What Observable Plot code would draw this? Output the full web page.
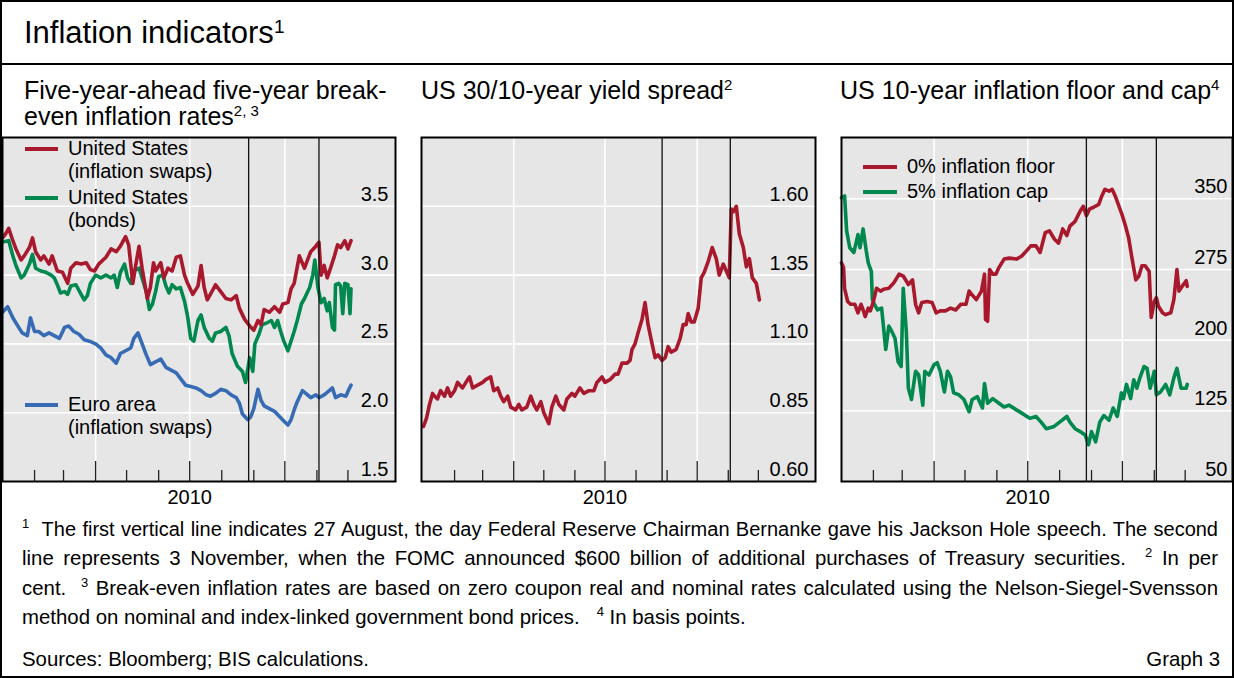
<!DOCTYPE html>
<html>
<head>
<meta charset="utf-8">
<script src="https://cdn.jsdelivr.net/npm/d3@7"></script>
<script src="https://cdn.jsdelivr.net/npm/@observablehq/plot@0.6"></script>
<style>
  body { margin: 0; background: #fff; }
  #root { position: relative; width: 1234px; height: 678px; font-family: "Liberation Sans", Arial, Helvetica, sans-serif; color: #000; overflow: hidden; }
  .abs { position: absolute; }
  .fn { height: 29.4px; line-height: 29.4px; font-size: 20.4px; white-space: nowrap; }
  .just { text-align: justify; text-align-last: justify; white-space: normal; }
  .fn sup { font-size: 13px; vertical-align: 8px; line-height: 0; }
  .leg { position: absolute; font-size: 20px; line-height: 23.5px; white-space: nowrap; }
  .sw { position: absolute; height: 4px; }
</style>
</head>
<body>
<div id="root"></div>
<script>
// ---------------- DATA ----------------
const eventDates = ["2010-08-27", "2010-11-03"];
const p1Ticks = [1.5, 2.0, 2.5, 3.0, 3.5];
const p2Ticks = [0.60, 0.85, 1.10, 1.35, 1.60];
const p3Ticks = [50, 125, 200, 275, 350];
const yearLabel = ["2010"];

const usSwaps = [["2010-01-01",3.27],["2010-01-04",3.30],["2010-01-07",3.34],["2010-01-11",3.25],["2010-01-14",3.19],["2010-01-19",3.11],["2010-01-22",3.14],["2010-01-27",3.20],["2010-01-30",3.27],["2010-02-02",3.17],["2010-02-07",3.11],["2010-02-10",3.14],["2010-02-15",3.08],["2010-02-18",3.14],["2010-02-23",3.03],["2010-02-28",3.02],["2010-03-05",2.94],["2010-03-08",3.05],["2010-03-13",3.09],["2010-03-18",3.08],["2010-03-23",3.09],["2010-03-27",3.04],["2010-03-31",3.03],["2010-04-04",3.08],["2010-04-11",3.13],["2010-04-16",3.19],["2010-04-21",3.17],["2010-04-25",3.21],["2010-04-30",3.28],["2010-05-03",3.22],["2010-05-07",2.94],["2010-05-10",3.08],["2010-05-13",3.21],["2010-05-16",3.05],["2010-05-21",2.83],["2010-05-24",2.91],["2010-05-27",3.09],["2010-05-29",3.03],["2010-06-03",3.09],["2010-06-06",2.98],["2010-06-10",3.05],["2010-06-14",3.03],["2010-06-18",3.13],["2010-06-22",3.14],["2010-06-26",3.00],["2010-06-29",2.94],["2010-07-04",2.86],["2010-07-09",2.92],["2010-07-12",3.07],["2010-07-15",2.91],["2010-07-18",2.82],["2010-07-21",2.86],["2010-07-26",2.93],["2010-07-31",2.88],["2010-08-05",2.83],["2010-08-10",2.82],["2010-08-15",2.85],["2010-08-18",2.76],["2010-08-23",2.68],["2010-08-28",2.63],["2010-09-01",2.60],["2010-09-05",2.67],["2010-09-08",2.64],["2010-09-11",2.75],["2010-09-16",2.73],["2010-09-21",2.77],["2010-09-26",2.73],["2010-09-29",2.79],["2010-10-04",2.80],["2010-10-07",2.90],["2010-10-10",2.94],["2010-10-15",3.14],["2010-10-20",3.05],["2010-10-23",3.11],["2010-10-26",3.17],["2010-10-31",3.21],["2010-11-03",3.24],["2010-11-05",3.00],["2010-11-08",3.07],["2010-11-11",2.98],["2010-11-15",3.07],["2010-11-18",3.14],["2010-11-21",3.22],["2010-11-24",3.20],["2010-11-28",3.25],["2010-12-01",3.19],["2010-12-04",3.25]];

const usBonds = [["2010-01-01",3.24],["2010-01-07",3.25],["2010-01-11",3.14],["2010-01-14",3.07],["2010-01-19",2.98],["2010-01-22",3.00],["2010-01-27",3.08],["2010-01-30",3.15],["2010-02-02",3.05],["2010-02-07",3.03],["2010-02-12",3.02],["2010-02-17",3.00],["2010-02-20",2.98],["2010-02-23",2.93],["2010-02-26",2.87],["2010-03-02",2.88],["2010-03-05",2.86],["2010-03-08",2.92],["2010-03-13",2.93],["2010-03-18",2.86],["2010-03-21",2.82],["2010-03-24",2.85],["2010-03-27",2.94],["2010-04-01",3.00],["2010-04-06",2.98],["2010-04-11",3.00],["2010-04-16",2.98],["2010-04-19",3.00],["2010-04-22",2.91],["2010-04-25",3.02],["2010-04-29",3.08],["2010-05-02",2.98],["2010-05-05",2.94],["2010-05-08",3.03],["2010-05-13",3.05],["2010-05-16",2.98],["2010-05-20",2.88],["2010-05-23",2.75],["2010-05-26",2.79],["2010-05-29",2.88],["2010-06-01",2.99],["2010-06-05",3.00],["2010-06-08",2.92],["2010-06-11",2.87],["2010-06-14",2.93],["2010-06-18",2.90],["2010-06-22",2.91],["2010-06-26",2.81],["2010-06-29",2.70],["2010-07-02",2.54],["2010-07-05",2.52],["2010-07-09",2.67],["2010-07-12",2.71],["2010-07-15",2.62],["2010-07-20",2.54],["2010-07-23",2.52],["2010-07-26",2.58],["2010-07-31",2.59],["2010-08-05",2.62],["2010-08-08",2.56],["2010-08-11",2.43],["2010-08-16",2.34],["2010-08-21",2.30],["2010-08-24",2.22],["2010-08-28",2.40],["2010-08-31",2.30],["2010-09-02",2.50],["2010-09-06",2.57],["2010-09-09",2.64],["2010-09-13",2.65],["2010-09-18",2.67],["2010-09-21",2.62],["2010-09-24",2.67],["2010-09-27",2.59],["2010-09-30",2.52],["2010-10-04",2.45],["2010-10-07",2.52],["2010-10-10",2.59],["2010-10-13",2.67],["2010-10-17",2.79],["2010-10-20",2.83],["2010-10-25",2.91],["2010-10-28",3.00],["2010-10-30",3.11],["2010-11-02",2.91],["2010-11-05",2.80],["2010-11-08",2.83],["2010-11-11",2.74],["2010-11-13",2.80],["2010-11-16",2.62],["2010-11-18",2.60],["2010-11-19",2.93],["2010-11-22",2.94],["2010-11-24",2.92],["2010-11-26",2.72],["2010-11-28",2.94],["2010-12-01",2.93],["2010-12-03",2.72],["2010-12-04",2.90]];

const euroSwaps = [["2010-01-01",2.73],["2010-01-06",2.77],["2010-01-11",2.69],["2010-01-15",2.64],["2010-01-20",2.58],["2010-01-25",2.56],["2010-01-28",2.69],["2010-02-01",2.59],["2010-02-05",2.59],["2010-02-10",2.56],["2010-02-15",2.58],["2010-02-20",2.56],["2010-02-25",2.54],["2010-03-02",2.62],["2010-03-06",2.63],["2010-03-11",2.59],["2010-03-16",2.57],["2010-03-21",2.53],["2010-03-26",2.52],["2010-04-01",2.50],["2010-04-06",2.47],["2010-04-11",2.42],["2010-04-16",2.40],["2010-04-21",2.36],["2010-04-25",2.43],["2010-04-30",2.45],["2010-05-05",2.47],["2010-05-08",2.54],["2010-05-12",2.58],["2010-05-15",2.52],["2010-05-20",2.42],["2010-05-24",2.35],["2010-05-29",2.37],["2010-06-03",2.39],["2010-06-08",2.33],["2010-06-13",2.31],["2010-06-18",2.29],["2010-06-22",2.25],["2010-06-27",2.20],["2010-07-02",2.19],["2010-07-07",2.18],["2010-07-12",2.16],["2010-07-17",2.13],["2010-07-21",2.12],["2010-07-26",2.14],["2010-07-31",2.17],["2010-08-05",2.16],["2010-08-10",2.13],["2010-08-15",2.11],["2010-08-18",2.07],["2010-08-21",1.99],["2010-08-26",1.95],["2010-08-29",1.97],["2010-09-01",2.03],["2010-09-05",2.17],["2010-09-08",2.09],["2010-09-11",2.05],["2010-09-16",2.03],["2010-09-21",2.01],["2010-09-26",1.97],["2010-09-30",1.94],["2010-10-04",1.91],["2010-10-07",1.95],["2010-10-10",2.02],["2010-10-13",2.08],["2010-10-18",2.16],["2010-10-23",2.13],["2010-10-26",2.11],["2010-10-31",2.13],["2010-11-03",2.11],["2010-11-08",2.13],["2010-11-13",2.16],["2010-11-16",2.18],["2010-11-19",2.11],["2010-11-24",2.13],["2010-11-29",2.12],["2010-12-02",2.17],["2010-12-04",2.20]];

const yieldSpread = [["2010-01-01",0.80],["2010-01-04",0.83],["2010-01-07",0.88],["2010-01-10",0.92],["2010-01-12",0.91],["2010-01-15",0.90],["2010-01-18",0.93],["2010-01-22",0.91],["2010-01-25",0.94],["2010-01-28",0.91],["2010-02-01",0.93],["2010-02-04",0.96],["2010-02-09",0.94],["2010-02-14",0.97],["2010-02-16",0.98],["2010-02-19",0.94],["2010-02-24",0.95],["2010-03-01",0.96],["2010-03-04",0.97],["2010-03-09",0.98],["2010-03-12",0.93],["2010-03-16",0.94],["2010-03-19",0.91],["2010-03-22",0.89],["2010-03-26",0.91],["2010-03-29",0.87],["2010-04-03",0.86],["2010-04-06",0.88],["2010-04-09",0.86],["2010-04-14",0.87],["2010-04-18",0.91],["2010-04-21",0.88],["2010-04-24",0.86],["2010-04-28",0.89],["2010-05-01",0.85],["2010-05-06",0.81],["2010-05-09",0.87],["2010-05-13",0.91],["2010-05-16",0.88],["2010-05-21",0.86],["2010-05-24",0.90],["2010-05-29",0.92],["2010-06-01",0.91],["2010-06-06",0.94],["2010-06-10",0.92],["2010-06-15",0.93],["2010-06-20",0.93],["2010-06-23",0.96],["2010-06-28",0.98],["2010-07-01",0.96],["2010-07-06",0.97],["2010-07-11",0.99],["2010-07-14",0.99],["2010-07-18",1.03],["2010-07-23",1.03],["2010-07-26",1.04],["2010-07-28",1.08],["2010-07-31",1.10],["2010-08-03",1.14],["2010-08-07",1.19],["2010-08-10",1.25],["2010-08-13",1.17],["2010-08-17",1.10],["2010-08-20",1.05],["2010-08-23",1.06],["2010-08-27",1.04],["2010-08-30",1.05],["2010-09-02",1.09],["2010-09-05",1.07],["2010-09-10",1.08],["2010-09-14",1.12],["2010-09-17",1.17],["2010-09-20",1.17],["2010-09-22",1.21],["2010-09-25",1.18],["2010-09-28",1.18],["2010-10-02",1.23],["2010-10-05",1.34],["2010-10-08",1.36],["2010-10-12",1.40],["2010-10-16",1.45],["2010-10-20",1.41],["2010-10-23",1.35],["2010-10-27",1.39],["2010-11-02",1.34],["2010-11-04",1.59],["2010-11-06",1.58],["2010-11-09",1.60],["2010-11-12",1.50],["2010-11-16",1.45],["2010-11-19",1.38],["2010-11-22",1.41],["2010-11-25",1.34],["2010-11-29",1.32],["2010-12-02",1.26]];

const inflationFloor = [["2010-01-01",282],["2010-01-03",277],["2010-01-04",255],["2010-01-07",241],["2010-01-10",238],["2010-01-14",238],["2010-01-17",229],["2010-01-20",238],["2010-01-22",232],["2010-01-24",225],["2010-01-27",234],["2010-01-29",231],["2010-02-01",241],["2010-02-04",255],["2010-02-08",252],["2010-02-11",254],["2010-02-16",255],["2010-02-21",261],["2010-02-26",270],["2010-03-02",268],["2010-03-07",259],["2010-03-11",264],["2010-03-14",238],["2010-03-17",229],["2010-03-20",240],["2010-03-25",241],["2010-03-30",240],["2010-04-03",229],["2010-04-07",231],["2010-04-12",231],["2010-04-17",234],["2010-04-22",232],["2010-04-27",238],["2010-05-02",238],["2010-05-05",252],["2010-05-08",248],["2010-05-12",243],["2010-05-17",252],["2010-05-20",270],["2010-05-21",222],["2010-05-23",220],["2010-05-25",275],["2010-05-28",270],["2010-05-31",270],["2010-06-03",277],["2010-06-08",286],["2010-06-13",287],["2010-06-20",286],["2010-06-25",289],["2010-06-30",295],["2010-07-04",300],["2010-07-09",300],["2010-07-13",293],["2010-07-18",314],["2010-07-22",316],["2010-07-27",307],["2010-07-31",303],["2010-08-04",318],["2010-08-08",311],["2010-08-11",321],["2010-08-16",326],["2010-08-21",337],["2010-08-24",342],["2010-08-27",332],["2010-08-30",339],["2010-09-03",341],["2010-09-08",344],["2010-09-11",353],["2010-09-14",360],["2010-09-18",358],["2010-09-21",360],["2010-09-24",353],["2010-09-28",341],["2010-10-01",332],["2010-10-04",321],["2010-10-07",309],["2010-10-10",289],["2010-10-14",264],["2010-10-17",268],["2010-10-20",279],["2010-10-23",279],["2010-10-27",273],["2010-10-29",224],["2010-11-01",241],["2010-11-03",245],["2010-11-05",236],["2010-11-09",229],["2010-11-12",227],["2010-11-17",229],["2010-11-20",243],["2010-11-23",275],["2010-11-25",252],["2010-11-28",257],["2010-12-02",263],["2010-12-03",257]];

const inflationCap = [["2010-01-01",351],["2010-01-04",353],["2010-01-06",316],["2010-01-09",298],["2010-01-13",293],["2010-01-17",312],["2010-01-19",298],["2010-01-22",318],["2010-01-25",295],["2010-01-27",282],["2010-01-30",273],["2010-01-31",243],["2010-02-02",238],["2010-02-05",232],["2010-02-09",234],["2010-02-13",190],["2010-02-16",215],["2010-02-19",209],["2010-02-22",202],["2010-02-25",177],["2010-02-28",172],["2010-03-02",255],["2010-03-05",209],["2010-03-07",149],["2010-03-10",137],["2010-03-14",167],["2010-03-17",163],["2010-03-21",131],["2010-03-23",167],["2010-03-27",163],["2010-04-01",174],["2010-04-04",176],["2010-04-07",167],["2010-04-11",145],["2010-04-14",167],["2010-04-17",161],["2010-04-20",144],["2010-04-25",142],["2010-04-30",137],["2010-05-05",124],["2010-05-08",137],["2010-05-13",140],["2010-05-18",128],["2010-05-20",154],["2010-05-23",133],["2010-05-28",138],["2010-06-03",133],["2010-06-08",129],["2010-06-13",131],["2010-06-20",126],["2010-06-26",122],["2010-07-03",117],["2010-07-09",119],["2010-07-14",113],["2010-07-19",106],["2010-07-26",108],["2010-08-01",113],["2010-08-08",119],["2010-08-11",113],["2010-08-16",106],["2010-08-21",103],["2010-08-26",99],["2010-08-29",89],["2010-09-01",103],["2010-09-05",92],["2010-09-09",113],["2010-09-13",120],["2010-09-18",115],["2010-09-22",128],["2010-09-26",119],["2010-09-30",144],["2010-10-02",138],["2010-10-05",153],["2010-10-09",138],["2010-10-12",158],["2010-10-15",149],["2010-10-18",160],["2010-10-22",172],["2010-10-25",170],["2010-10-28",149],["2010-11-01",167],["2010-11-03",142],["2010-11-07",145],["2010-11-12",153],["2010-11-16",142],["2010-11-20",160],["2010-11-23",170],["2010-11-27",149],["2010-12-02",149],["2010-12-03",153]];

const RED = "#a8192d", GREEN = "#00884e", BLUE = "#376cb4";

// ---------------- LAYOUT ----------------
const root = document.getElementById("root");
const FONT = '"Liberation Sans", Arial, Helvetica, sans-serif';
const H = 344;           // frame height
const FRAME_TOP = 137;

function panel({left, width, lines, yDomain, yTicks, fmt, xDomain, labelDx}) {
  const months = d3.utcMonths(new Date(Date.UTC(2010, 1, 1)), new Date(Date.UTC(2010, 11, 2)));
  const quarters = months.filter(d => d.getUTCMonth() % 3 === 0);
  const minor = months.filter(d => d.getUTCMonth() % 3 !== 0);
  const events = eventDates.map(s => new Date(s));
  const svg = Plot.plot({
    width: width + 4,
    height: H + 4 + 30,
    marginLeft: 2, marginRight: 2, marginTop: 2, marginBottom: 32,
    x: {type: "utc", domain: xDomain.map(s => new Date(s)), axis: null},
    y: {domain: yDomain, axis: null},
    style: {background: "transparent", fontFamily: FONT, overflow: "visible"},
    marks: [
      Plot.frame({fill: "#e6e6e6"}),
      Plot.ruleY(yTicks.slice(1), {y: d => d, stroke: "#fff", strokeWidth: 1.6}),
      Plot.ruleX(quarters, {x: d => d, stroke: "#fff", strokeWidth: 1.6}),
      Plot.ruleX(minor, {x: d => d, stroke: "#222", strokeWidth: 1.3, insetTop: H - 11}),
      Plot.ruleX(quarters, {x: d => d, stroke: "#222", strokeWidth: 1.3, insetTop: H - 20}),
      Plot.text(yTicks, {y: d => d, text: d => fmt(d), frameAnchor: "right", textAnchor: "end", lineAnchor: "middle", dx: labelDx, dy: -12, fontSize: 20, fill: "#000"}),
      ...lines.map(l => Plot.line(l.data, {x: d => new Date(d[0]), y: d => d[1], stroke: l.color, strokeWidth: 3.6, strokeLinejoin: "round", strokeLinecap: "round"})),
      Plot.ruleX(events, {x: d => d, stroke: "#111", strokeWidth: 1.3}),
      Plot.frame({stroke: "#000", strokeWidth: 2}),
      Plot.text(yearLabel, {x: () => new Date(Date.UTC(2010, 6, 1)), text: d => d, frameAnchor: "bottom", lineAnchor: "middle", dy: 16, fontSize: 20, fill: "#000"})
    ]
  });
  svg.style.position = "absolute";
  svg.style.left = (left - 2) + "px";
  svg.style.top = (FRAME_TOP - 2) + "px";
  root.appendChild(svg);
}

panel({left: 2, width: 393, lines: [{data: euroSwaps, color: BLUE}, {data: usBonds, color: GREEN}, {data: usSwaps, color: RED}],
  yDomain: [1.5, 4.0], yTicks: p1Ticks, fmt: d3.format(".1f"), xDomain: ["2010-01-01", "2011-01-16"], labelDx: -7});
panel({left: 421, width: 394, lines: [{data: yieldSpread, color: RED}],
  yDomain: [0.60, 1.85], yTicks: p2Ticks, fmt: d3.format(".2f"), xDomain: ["2009-12-30", "2011-01-27"], labelDx: -7});
panel({left: 841, width: 391, lines: [{data: inflationCap, color: GREEN}, {data: inflationFloor, color: RED}],
  yDomain: [50, 415], yTicks: p3Ticks, fmt: d3.format("d"), xDomain: ["2010-01-01", "2011-01-16"], labelDx: -5});

function html(s) { root.insertAdjacentHTML("beforeend", s); }

// outer frame and title rule
html(`<div class="abs" style="left:0;top:0;width:1234px;height:678px;box-sizing:border-box;border:2px solid #000;pointer-events:none"></div>`);
html(`<div class="abs" style="left:0;top:63px;width:1234px;height:2px;background:#000"></div>`);

// title
html(`<div class="abs" style="left:24px;top:17px;font-size:31px;line-height:31px;white-space:nowrap">Inflation indicators<sup style="font-size:19px;vertical-align:10px;line-height:0">1</sup></div>`);

// panel titles
const pt = "font-size:25px;line-height:26px;white-space:nowrap";
const ps = "font-size:15px;vertical-align:9px;line-height:0";
html(`<div class="abs" style="left:24px;top:77px;${pt}">Five-year-ahead five-year break-<br>even inflation rates<sup style="${ps}">2, 3</sup></div>`);
html(`<div class="abs" style="left:421px;top:77px;${pt}">US 30/10-year yield spread<sup style="${ps}">2</sup></div>`);
html(`<div class="abs" style="left:840px;top:77px;${pt}">US 10-year inflation floor and cap<sup style="${ps}">4</sup></div>`);

// legends
function legend(x0, x1, tx, cy, color, linesTxt) {
  html(`<div class="sw" style="left:${x0}px;top:${cy - 2}px;width:${x1 - x0}px;background:${color}"></div>`);
  linesTxt.forEach((t, i) => html(`<div class="leg" style="left:${tx}px;top:${cy - 11.75 + i * 23}px">${t}</div>`));
}
legend(25, 58, 68, 149, RED, ["United States", "(inflation swaps)"]);
legend(25, 58, 68, 198, GREEN, ["United States", "(bonds)"]);
legend(25, 58, 68, 405, BLUE, ["Euro area", "(inflation swaps)"]);
legend(863, 897, 907, 167, RED, ["0% inflation floor"]);
legend(863, 897, 907, 192, GREEN, ["5% inflation cap"]);

// footnotes
html(`<div class="abs" style="left:22px;top:515px;width:1196px">
  <div class="fn just" style="font-size:20px"><sup>1</sup>&nbsp; The first vertical line indicates 27 August, the day Federal Reserve Chairman Bernanke gave his Jackson Hole speech. The second</div>
  <div class="fn just">line represents 3&nbsp;November, when the FOMC announced $600 billion of additional purchases of Treasury securities. &nbsp;<sup>2</sup> In per</div>
  <div class="fn just">cent. &nbsp;<sup>3</sup> Break-even inflation rates are based on zero coupon real and nominal rates calculated using the Nelson-Siegel-Svensson</div>
  <div class="fn">method on nominal and index-linked government bond prices. &nbsp;&nbsp;<sup>4</sup> In basis points.</div>
</div>`);
html(`<div class="abs fn" style="left:22px;top:645px">Sources: Bloomberg; BIS calculations.</div>`);
html(`<div class="abs fn" style="right:14px;top:645px">Graph 3</div>`);
</script>
</body>
</html>
